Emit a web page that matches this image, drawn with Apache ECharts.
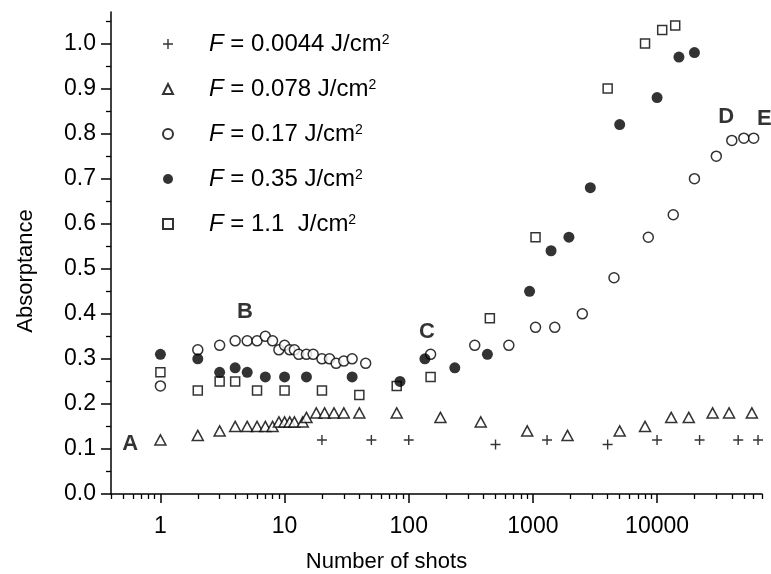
<!DOCTYPE html>
<html>
<head>
<meta charset="utf-8">
<script src="https://cdn.jsdelivr.net/npm/echarts@6/dist/echarts.min.js"></script>
<style>html,body{margin:0;padding:0;background:#fff}#c{width:771px;height:574px}</style>
</head>
<body>
<div id="c"></div>
<script>
// ---- data ----
const fluences = ['0.0044', '0.078', '0.17', '0.35', '1.1 '];

const plusX = [20, 50, 100, 500, 1300, 4000, 10000, 22000, 45000, 65000];
const plusY = [0.12, 0.12, 0.12, 0.11, 0.12, 0.11, 0.12, 0.12, 0.12, 0.12];

const triX = [1, 2, 3, 4, 5, 6, 7, 8, 9, 10, 11, 12, 14, 15, 18, 21, 25, 30, 40, 80, 180, 380, 900, 1900, 5000, 8000, 13000, 18000, 28000, 38000, 58000];
const triY = [0.12, 0.13, 0.14, 0.15, 0.15, 0.15, 0.15, 0.15, 0.16, 0.16, 0.16, 0.16, 0.16, 0.17, 0.18, 0.18, 0.18, 0.18, 0.18, 0.18, 0.17, 0.16, 0.14, 0.13, 0.14, 0.15, 0.17, 0.17, 0.18, 0.18, 0.18];

const openX = [1, 2, 3, 4, 5, 6, 7, 8, 9, 10, 11, 12, 13, 15, 17, 20, 23, 26, 30, 35, 45, 150, 340, 640, 1050, 1500, 2500, 4500, 8500, 13500, 20000, 30000, 40000, 50000, 60000];
const openY = [0.24, 0.32, 0.33, 0.34, 0.34, 0.34, 0.35, 0.34, 0.32, 0.33, 0.32, 0.32, 0.31, 0.31, 0.31, 0.30, 0.30, 0.29, 0.295, 0.30, 0.29, 0.31, 0.33, 0.33, 0.37, 0.37, 0.40, 0.48, 0.57, 0.62, 0.70, 0.75, 0.785, 0.79, 0.79];

const fillX = [1, 2, 3, 4, 5, 7, 10, 15, 35, 85, 135, 235, 430, 940, 1400, 1950, 2900, 5000, 10000, 15000, 20000];
const fillY = [0.31, 0.30, 0.27, 0.28, 0.27, 0.26, 0.26, 0.26, 0.26, 0.25, 0.30, 0.28, 0.31, 0.45, 0.54, 0.57, 0.68, 0.82, 0.88, 0.97, 0.98];

const sqX = [1, 2, 3, 4, 6, 10, 20, 40, 80, 150, 450, 1050, 4000, 8000, 11000, 14000];
const sqY = [0.27, 0.23, 0.25, 0.25, 0.23, 0.23, 0.23, 0.22, 0.24, 0.26, 0.39, 0.57, 0.90, 1.00, 1.03, 1.04];

const noteText = ['A', 'B', 'C', 'D', 'E'];
const noteX = [0.57, 4.8, 140, 36000, 73000];
const noteY = [0.112, 0.404, 0.36, 0.837, 0.833];

const xMajor = [1, 10, 100, 1000, 10000];
const xMinor = [0.4, 0.5, 0.6, 0.7, 0.8, 0.9, 2, 3, 4, 5, 6, 7, 8, 9, 20, 30, 40, 50, 60, 70, 80, 90,
  200, 300, 400, 500, 600, 700, 800, 900, 2000, 3000, 4000, 5000, 6000, 7000, 8000, 9000,
  20000, 30000, 40000, 50000, 60000, 70000];
const yMajor = [0, 0.1, 0.2, 0.3, 0.4, 0.5, 0.6, 0.7, 0.8, 0.9, 1.0];
const yMinor = [0.05, 0.15, 0.25, 0.35, 0.45, 0.55, 0.65, 0.75, 0.85, 0.95, 1.05];

// ---- chart ----
const FONT = '"Liberation Sans", Arial, Helvetica, sans-serif';
const zip = (a, b) => a.map((v, i) => [v, b[i]]);
const names = fluences.map(f => 'F = ' + f + ' J/cm2');
const PLUS = 'path://M4.3,0H5.7V4.3H10V5.7H5.7V10H4.3V5.7H0V4.3H4.3Z';

const chart = echarts.init(document.getElementById('c'), null, {renderer: 'canvas'});
const baseX = {
  type: 'log', logBase: 10, min: 0.4, max: 70000, gridIndex: 0, position: 'bottom',
  splitLine: {show: false}, minorTick: {show: false}, minorSplitLine: {show: false}
};
const baseY = {
  type: 'value', min: 0, max: 1.07, gridIndex: 0, position: 'left',
  splitLine: {show: false}, minorTick: {show: false}
};
const mk = {borderColor: '#000', borderWidth: 1.5};

chart.setOption({
  animation: false,
  backgroundColor: '#fff',
  grid: {left: 111, right: 9, top: 12, bottom: 80, containLabel: false, outerBoundsMode: 'none'},
  textStyle: {fontFamily: FONT},
  xAxis: [
    Object.assign({}, baseX, {
      name: 'Number of shots', nameLocation: 'middle', nameGap: 57,
      nameTextStyle: {fontSize: 22, color: '#000', fontFamily: FONT, padding: [0, 100, 0, 0]},
      axisLine: {show: true, lineStyle: {color: '#000', width: 1.5}},
      axisTick: {show: true, inside: false, length: 9, customValues: xMajor, lineStyle: {color: '#000', width: 1.5}},
      axisLabel: {show: true, customValues: xMajor, margin: 21, fontSize: 23, color: '#000', fontFamily: FONT,
        formatter: v => String(Math.round(v))}
    }),
    Object.assign({}, baseX, {
      axisLine: {show: false},
      axisTick: {show: true, inside: false, length: 5, customValues: xMinor, lineStyle: {color: '#000', width: 1.3}},
      axisLabel: {show: false}
    })
  ],
  yAxis: [
    Object.assign({}, baseY, {
      name: 'Absorptance', nameLocation: 'middle', nameGap: 74,
      nameTextStyle: {fontSize: 22, color: '#000', fontFamily: FONT, padding: [0, 36, 0, 0]},
      axisLine: {show: true, lineStyle: {color: '#000', width: 1.5}},
      axisTick: {show: true, inside: false, length: 10, customValues: yMajor, lineStyle: {color: '#000', width: 1.5}},
      axisLabel: {show: true, customValues: yMajor, margin: 15, fontSize: 23, color: '#000', fontFamily: FONT,
        formatter: v => v.toFixed(1)}
    }),
    Object.assign({}, baseY, {
      axisLine: {show: false},
      axisTick: {show: true, inside: false, length: 5, customValues: yMinor, lineStyle: {color: '#000', width: 1.3}},
      axisLabel: {show: false}
    })
  ],
  legend: {
    orient: 'vertical', left: 162, top: 32, itemWidth: 10, itemHeight: 10, itemGap: 21,
    padding: 0, data: names, selectedMode: false,
    formatter: name => {
      const f = fluences[names.indexOf(name)];
      return '{g| }{i|F}{t| = ' + f + ' J/cm}{s|2}';
    },
    textStyle: {
      fontSize: 24, color: '#000', fontFamily: FONT, lineHeight: 22,
      rich: {
        g: {width: 31, fontSize: 24},
        i: {fontStyle: 'italic', fontSize: 24, color: '#000', fontFamily: FONT},
        t: {fontSize: 24, color: '#000', fontFamily: FONT},
        s: {fontSize: 14, color: '#000', fontFamily: FONT, verticalAlign: 'top', lineHeight: 22}
      }
    }
  },
  series: [
    {name: names[0], type: 'scatter', symbol: PLUS, symbolSize: 10, symbolKeepAspect: true,
      itemStyle: {color: '#000'}, data: zip(plusX, plusY), z: 3},
    {name: names[1], type: 'scatter', symbol: 'triangle', symbolSize: [11, 10],
      itemStyle: Object.assign({color: '#fff'}, mk), data: zip(triX, triY), z: 3},
    {name: names[2], type: 'scatter', symbol: 'circle', symbolSize: 10,
      itemStyle: Object.assign({color: '#fff'}, mk), data: zip(openX, openY), z: 4},
    {name: names[3], type: 'scatter', symbol: 'circle', symbolSize: 11,
      itemStyle: {color: '#000', borderColor: '#000', borderWidth: 0}, data: zip(fillX, fillY), z: 5},
    {name: names[4], type: 'scatter', symbol: 'rect', symbolSize: 9,
      itemStyle: Object.assign({color: '#fff'}, mk), data: zip(sqX, sqY), z: 3},
    {name: 'notes', type: 'scatter', symbol: 'circle', symbolSize: 0, clip: false, silent: true,
      data: noteText.map((t, i) => ({name: t, value: [noteX[i], noteY[i]]})),
      label: {show: true, position: 'inside', formatter: p => p.name, fontSize: 22, fontWeight: 'bold',
        color: '#000', fontFamily: FONT}, z: 6}
  ]
});
</script>
</body>
</html>
